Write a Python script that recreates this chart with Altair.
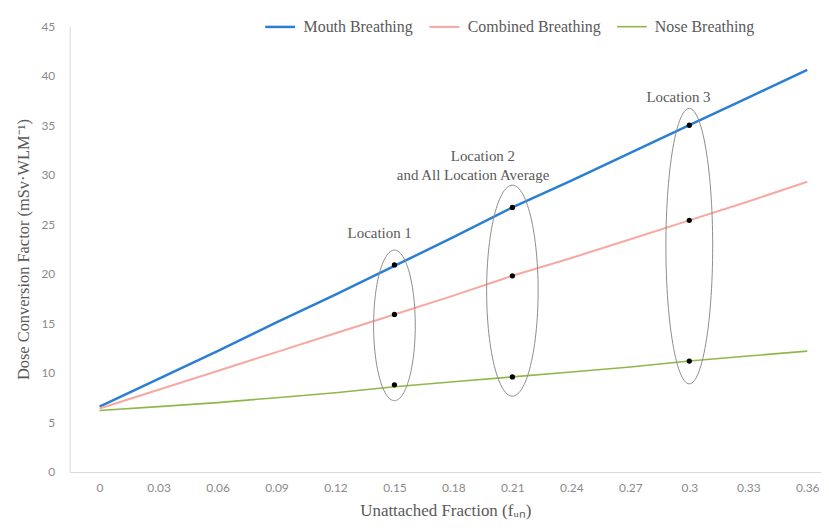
import altair as alt
import numpy as np
import pandas as pd

# ---- data ----
x_vals = [0, 0.03, 0.06, 0.09, 0.12, 0.15, 0.18, 0.21, 0.24, 0.27, 0.30, 0.33, 0.36]
mouth = [6.6, 9.4, 12.2, 15.1, 17.9, 20.8, 23.7, 26.7, 29.4, 32.2, 35.0, 37.8, 40.6]
combined = [6.4, 8.3, 10.2, 12.1, 14.0, 15.9, 17.8, 19.8, 21.6, 23.5, 25.4, 27.3, 29.3]
nose = [6.2, 6.6, 7.0, 7.5, 8.0, 8.6, 9.1, 9.6, 10.1, 10.6, 11.2, 11.7, 12.2]

series_names = ["Mouth Breathing", "Combined Breathing", "Nose Breathing"]
series_colors = ["#2a7fd4", "#f7a8a2", "#8fb849"]
series_widths = [2.5, 1.6, 2.2]

loc_x = [0.15, 0.21, 0.30]
loc_mouth = [20.9, 26.7, 35.0]
loc_combined = [15.9, 19.8, 25.4]
loc_nose = [8.8, 9.6, 11.2]

# ellipse annotations (center y, half-height in y units, half-width in x units)
ell_cy = [14.8, 18.3, 22.8]
ell_ry = [7.6, 10.65, 13.9]
ell_rx = [0.0106, 0.0131, 0.0119]

ann_text = ["Location 1", "Location 2", "and All Location Average", "Location 3"]
ann_x = [0.1425, 0.195, 0.190, 0.2945]
ann_y = [24.1, 31.85, 29.95, 37.8]

x_ticks = x_vals
x_domain = [-0.0152, 0.367]

# ---- tables ----
rows = []
for name, vals in zip(series_names, [mouth, combined, nose]):
    for xv, yv in zip(x_vals, vals):
        rows.append({"x": xv, "y": yv, "series": name})
lines_df = pd.DataFrame(rows)

pts = []
for vals in [loc_mouth, loc_combined, loc_nose]:
    for xv, yv in zip(loc_x, vals):
        pts.append({"x": xv, "y": yv})
pts_df = pd.DataFrame(pts)

theta = np.linspace(0, 2 * np.pi, 121)
ell_rows = []
for i, (cx, cy, rx, ry) in enumerate(zip(loc_x, ell_cy, ell_rx, ell_ry)):
    for k, t in enumerate(theta):
        ell_rows.append({"x": cx + rx * np.cos(t), "y": cy + ry * np.sin(t), "loc": i, "k": k})
ell_df = pd.DataFrame(ell_rows)

ann_df = pd.DataFrame({"x": ann_x, "y": ann_y, "text": ann_text})

SERIF = "Liberation Serif"
TXT = "#595959"

xscale = alt.Scale(domain=x_domain, nice=False, zero=False)
yscale = alt.Scale(domain=[0, 45], nice=False)

base_x = alt.X("x:Q", scale=xscale,
               axis=alt.Axis(values=x_ticks, format="~g", title="Unattached Fraction (fᵤₙ)",
                             grid=False, ticks=False, domainColor="#d9d9d9",
                             labelFont="Lato", labelFontSize=12, labelColor="#8a8a8a",
                             labelPadding=11, titleFont=SERIF, titleFontSize=17,
                             titleFontWeight="normal", titleColor=TXT, titlePadding=9))
base_y = alt.Y("y:Q", scale=yscale,
               axis=alt.Axis(values=list(range(0, 50, 5)), title="Dose Conversion Factor (mSv·WLM⁻¹)",
                             grid=False, ticks=False, domainColor="#d9d9d9",
                             labelFont="Lato", labelFontSize=12, labelColor="#8a8a8a",
                             labelPadding=15, titleFont=SERIF, titleFontSize=16.5,
                             titleFontWeight="normal", titleColor=TXT, titlePadding=9))

lines = alt.Chart(lines_df).mark_line().encode(
    x=base_x,
    y=base_y,
    color=alt.Color("series:N", scale=alt.Scale(domain=series_names, range=series_colors),
                    sort=series_names,
                    legend=alt.Legend(title=None, orient="none", legendX=195, legendY=-16,
                                      direction="horizontal", symbolType="stroke",
                                      symbolSize=900, symbolStrokeWidth=2.5,
                                      labelFont=SERIF, labelFontSize=16, labelColor=TXT,
                                      labelOffset=7, columnPadding=12)),
    strokeWidth=alt.StrokeWidth("series:N", scale=alt.Scale(domain=series_names, range=series_widths),
                                legend=None),
)

ellipses = alt.Chart(ell_df).mark_line(color="#8c8c8c", strokeWidth=1).encode(
    x="x:Q", y="y:Q", detail="loc:N", order="k:Q"
)

points = alt.Chart(pts_df).mark_circle(color="black", size=28, opacity=1).encode(
    x="x:Q", y="y:Q"
)

labels = alt.Chart(ann_df).mark_text(font=SERIF, fontSize=15, color=TXT, align="center",
                                     baseline="middle").encode(
    x="x:Q", y="y:Q", text="text:N"
)

chart = alt.layer(lines, ellipses, points, labels).properties(
    width=755, height=448,
    autosize=alt.AutoSizeParams(type="none"),
    padding={"left": 62, "top": 17, "right": 0, "bottom": 50},
).configure_view(stroke=None)

chart.save("out.html", embed_options={"renderer": "svg", "actions": False})
